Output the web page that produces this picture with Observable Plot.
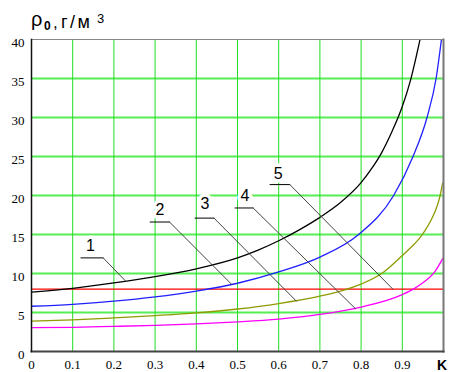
<!DOCTYPE html>
<html><head><meta charset="utf-8">
<script src="https://cdn.jsdelivr.net/npm/d3@7"></script>
<script src="https://cdn.jsdelivr.net/npm/@observablehq/plot@0.6"></script>
<style>body{margin:0;background:#fff} #chart{position:relative;width:449px;height:372px}
.ticks text{font-family:"Liberation Serif","Times New Roman",serif !important;}</style>
</head><body><div id="chart"></div>
<script>
// ---- data ----
const xTicks = [0, 0.1, 0.2, 0.3, 0.4, 0.5, 0.6, 0.7, 0.8, 0.9];
const xTickLabels = ["0", "0.1", "0.2", "0.3", "0.4", "0.5", "0.6", "0.7", "0.8", "0.9"];
const yTicks = [0, 5, 10, 15, 20, 25, 30, 35, 40];

// curve 1 (black)
const k1 = [0, 0.1, 0.2, 0.3, 0.4, 0.5, 0.55, 0.6, 0.65, 0.7, 0.75, 0.8, 0.825, 0.85, 0.875, 0.9, 0.92, 0.943];
const v1 = [7.6, 8.1, 8.8, 9.6, 10.6, 12.0, 13.0, 14.2, 15.6, 17.2, 19.1, 21.65, 23.4, 25.5, 28.2, 31.4, 34.8, 40];
// curve 2 (blue)
const k2 = [0, 0.1, 0.2, 0.3, 0.4, 0.5, 0.6, 0.7, 0.794, 0.879, 0.926, 0.96, 0.982, 0.995];
const v2 = [5.8, 6.05, 6.45, 7.0, 7.75, 8.75, 10.2, 12.1, 15, 20, 25, 30, 35, 40];
// curve 3 (olive)
const k3 = [0, 0.1, 0.2, 0.3, 0.4, 0.5, 0.6, 0.7, 0.75, 0.8, 0.85, 0.9, 0.92, 0.94, 0.955, 0.97, 0.98, 0.99, 0.998];
const v3 = [3.9, 4.05, 4.3, 4.6, 4.95, 5.45, 6.15, 7.1, 7.75, 8.65, 10.0, 12.3, 13.3, 14.4, 15.5, 16.85, 18.0, 19.6, 21.6];
// curve 4 (magenta)
const k4 = [0, 0.1, 0.2, 0.3, 0.4, 0.5, 0.6, 0.7, 0.8, 0.9, 0.93, 0.95, 0.98, 0.998];
const v4 = [3.05, 3.1, 3.22, 3.35, 3.55, 3.8, 4.15, 4.75, 5.7, 7.3, 8.1, 8.8, 10.3, 11.9];
// curve 5 (red, constant level)
const level5 = 8;

// callout labels
const labelNames = ["1", "2", "3", "4", "5"];
const labelK = [0.143, 0.312, 0.421, 0.518, 0.599];
const labelV = [13.6, 18.1, 18.9, 20.0, 22.8];
const underK0 = [0.120, 0.288, 0.397, 0.494, 0.579];
const underK1 = [0.174, 0.335, 0.443, 0.538, 0.627];
const underV = [12.0, 16.6, 17.1, 18.4, 21.4];
const endK = [0.229, 0.486, 0.643, 0.787, 0.877];
const endV = [9.0, 8.6, 6.45, 5.45, 8.0];

// ---- build tables ----
const toRows = (ks, vs) => ks.map((k, i) => ({k, v: vs[i]}));
const underRows = labelNames.flatMap((n, i) => [
  {id: n, k: underK0[i], v: underV[i]}, {id: n, k: underK1[i], v: underV[i]}]);
const leaderRows = labelNames.flatMap((n, i) => [
  {id: n, k: underK1[i], v: underV[i]}, {id: n, k: endK[i], v: endV[i]}]);
const labelRows = labelNames.map((n, i) => ({n, k: labelK[i], v: labelV[i]}));

const serif = "Liberation Serif";
const sans = "Liberation Sans";
const lineOpts = {x: "k", y: "v", curve: "monotone-x", strokeWidth: 1.3, clip: true};

const svg = Plot.plot({
  width: 449, height: 372,
  marginLeft: 31, marginRight: 6, marginTop: 39, marginBottom: 21,
  x: {domain: [0, 1]},
  y: {domain: [0, 40]},
  style: {fontFamily: serif, fontSize: "13px", background: "white", color: "black"},
  marks: [
    Plot.ruleY(yTicks.filter(d => d > 0 && d < 40), {stroke: "#55ee55", strokeWidth: 2}),
    Plot.ruleX(xTicks.filter(d => d > 0), {stroke: "#22dd22", strokeWidth: 1}),
    Plot.ruleY([level5], {stroke: "#ff0000", strokeWidth: 1.2}),
    Plot.line(toRows(k4, v4), {...lineOpts, stroke: "#ff00ff"}),
    Plot.line(toRows(k3, v3), {...lineOpts, stroke: "#8f9a00"}),
    Plot.line(toRows(k2, v2), {...lineOpts, stroke: "#2020ff"}),
    Plot.line(toRows(k1, v1), {...lineOpts, stroke: "#000000"}),
    Plot.text(labelRows, {x: "k", y: "v", text: "n", fontFamily: sans,
      fontSize: 16, fill: "black", stroke: "white", strokeWidth: 7, paintOrder: "stroke"}),
    Plot.line(underRows, {x: "k", y: "v", z: "id", stroke: "#000", strokeWidth: 1}),
    Plot.line(leaderRows, {x: "k", y: "v", z: "id", stroke: "#444", strokeWidth: 1}),
    Plot.frame({anchor: "top", stroke: "#888", strokeWidth: 1}),
    Plot.frame({anchor: "right", stroke: "#777", strokeWidth: 2}),
    Plot.frame({anchor: "bottom", stroke: "#444", strokeWidth: 2}),
    Plot.frame({anchor: "left", stroke: "#111", strokeWidth: 1.5}),
    Plot.axisY(yTicks, {tickSize: 0, tickPadding: 7, dy: 3, label: null, fontFamily: serif, fontSize: 13, className: "ticks"}),
    Plot.axisX(xTicks, {tickSize: 0, tickPadding: 8, label: null, fontFamily: serif, fontSize: 13, className: "ticks",
      tickFormat: (d, i) => xTickLabels[i]})
  ]
});

const s = d3.select(svg);
s.selectAll("g[aria-label$='tick label'] text").attr("font-family", serif).style("font-family", serif);
const title = s.append("g").attr("font-family", sans).attr("fill", "black").attr("text-anchor", "start");
title.append("text").attr("x", 31).attr("y", 26).attr("font-size", 20).text("ρ");
title.append("text").attr("x", 44).attr("y", 30).attr("font-size", 12).attr("font-weight", "bold").text("0");
title.append("text").attr("x", 53).attr("y", 28).attr("font-size", 17).text(",");
title.append("text").attr("x", 61).attr("y", 28.3).attr("font-size", 18).attr("letter-spacing", 2.5).text("г/м");
title.append("text").attr("x", 97).attr("y", 22.5).attr("font-size", 13).text("3");
s.append("text").attr("x", 437).attr("y", 370).attr("font-family", sans).attr("font-size", 14)
  .attr("font-weight", "bold").attr("fill", "black").attr("text-anchor", "start").text("K");

document.getElementById("chart").appendChild(svg);
</script>
</body></html>
